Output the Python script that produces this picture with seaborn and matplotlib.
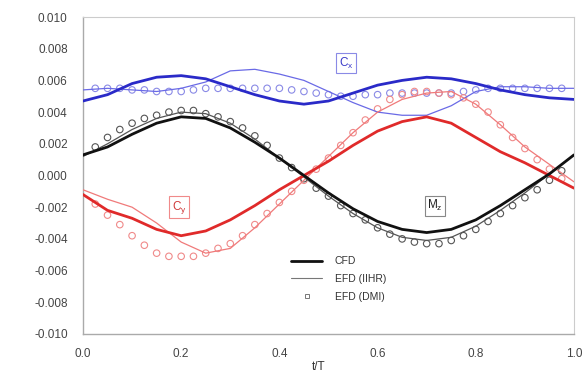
import numpy as np
import pandas as pd
import matplotlib
matplotlib.use("Agg")
import matplotlib.pyplot as plt
import seaborn as sns
from matplotlib.lines import Line2D

# ---- time base (t/T) ----
t_cfd = [0.00, 0.05, 0.10, 0.15, 0.20, 0.25, 0.30, 0.35, 0.40, 0.45, 0.50,
         0.55, 0.60, 0.65, 0.70, 0.75, 0.80, 0.85, 0.90, 0.95, 1.00]
t_iihr = t_cfd
t_dmi = [0.025, 0.050, 0.075, 0.100, 0.125, 0.150, 0.175, 0.200, 0.225, 0.250,
         0.275, 0.300, 0.325, 0.350, 0.375, 0.400, 0.425, 0.450, 0.475, 0.500,
         0.525, 0.550, 0.575, 0.600, 0.625, 0.650, 0.675, 0.700, 0.725, 0.750,
         0.775, 0.800, 0.825, 0.850, 0.875, 0.900, 0.925, 0.950, 0.975]

# ---- Cx ----
cx_cfd = [0.0047, 0.0051, 0.0058, 0.0062, 0.0063, 0.0061, 0.0056, 0.0051, 0.0047, 0.0045, 0.0047,
          0.0052, 0.0057, 0.0060, 0.0062, 0.0061, 0.0058, 0.0054, 0.0051, 0.0049, 0.0048]
cx_iihr = [0.0054, 0.0055, 0.0054, 0.0053, 0.0055, 0.0059, 0.0066, 0.0067, 0.0064, 0.0060, 0.0053,
           0.0046, 0.0040, 0.0038, 0.0038, 0.0044, 0.0053, 0.0056, 0.0056, 0.0055, 0.0055]
cx_dmi = [0.0055, 0.0055, 0.0055, 0.0054, 0.0054, 0.0053, 0.0053, 0.0053, 0.0054, 0.0055,
          0.0055, 0.0055, 0.0055, 0.0055, 0.0055, 0.0055, 0.0054, 0.0053, 0.0052, 0.0051,
          0.0050, 0.0050, 0.0051, 0.0051, 0.0052, 0.0052, 0.0052, 0.0052, 0.0052, 0.0052,
          0.0053, 0.0054, 0.0055, 0.0055, 0.0055, 0.0055, 0.0055, 0.0055, 0.0055]

# ---- Cy ----
cy_cfd = [-0.0012, -0.0022, -0.0027, -0.0034, -0.0038, -0.0035, -0.0028, -0.0019, -0.0009, 0.0000, 0.0009,
          0.0019, 0.0028, 0.0034, 0.0037, 0.0033, 0.0024, 0.0015, 0.0008, 0.0000, -0.0008]
cy_iihr = [-0.0009, -0.0015, -0.0020, -0.0030, -0.0042, -0.0049, -0.0046, -0.0033, -0.0018, -0.0003, 0.0012,
           0.0027, 0.0040, 0.0048, 0.0052, 0.0053, 0.0045, 0.0032, 0.0018, 0.0007, -0.0004]
cy_dmi = [-0.0018, -0.0025, -0.0031, -0.0038, -0.0044, -0.0049, -0.0051, -0.0051, -0.0051, -0.0049,
          -0.0046, -0.0043, -0.0038, -0.0031, -0.0024, -0.0017, -0.0010, -0.0003, 0.0004, 0.0011,
          0.0019, 0.0027, 0.0035, 0.0042, 0.0048, 0.0051, 0.0053, 0.0053, 0.0052, 0.0051,
          0.0049, 0.0045, 0.0040, 0.0032, 0.0024, 0.0017, 0.0010, 0.0004, -0.0002]

# ---- Mz ----
mz_cfd = [0.0013, 0.0018, 0.0026, 0.0033, 0.0037, 0.0036, 0.0030, 0.0021, 0.0011, 0.0000, -0.0011,
          -0.0021, -0.0029, -0.0034, -0.0036, -0.0034, -0.0028, -0.0019, -0.0009, 0.0001, 0.0013]
mz_iihr = [0.0012, 0.0020, 0.0029, 0.0036, 0.0040, 0.0039, 0.0033, 0.0023, 0.0011, -0.0001, -0.0013,
           -0.0024, -0.0033, -0.0039, -0.0041, -0.0039, -0.0032, -0.0022, -0.0011, 0.0001, 0.0013]
mz_dmi = [0.0018, 0.0024, 0.0029, 0.0033, 0.0036, 0.0038, 0.0040, 0.0041, 0.0041, 0.0039,
          0.0037, 0.0034, 0.0030, 0.0025, 0.0019, 0.0011, 0.0005, -0.0002, -0.0008, -0.0013,
          -0.0019, -0.0024, -0.0028, -0.0033, -0.0037, -0.0040, -0.0042, -0.0043, -0.0043, -0.0041,
          -0.0038, -0.0034, -0.0029, -0.0024, -0.0019, -0.0014, -0.0009, -0.0003, 0.0003]

# ---- axis ticks ----
x_ticks = [0.0, 0.2, 0.4, 0.6, 0.8, 1.0]
y_ticks = [-0.010, -0.008, -0.006, -0.004, -0.002, 0.000, 0.002, 0.004, 0.006, 0.008, 0.010]

sns.set_style("white")
plt.rcParams["font.family"] = ["Liberation Sans", "DejaVu Sans"]
plt.rcParams["mathtext.fontset"] = "custom"
plt.rcParams["mathtext.rm"] = "Liberation Sans"
plt.rcParams["mathtext.it"] = "Liberation Sans"

fig = plt.figure(figsize=(5.86, 3.72), dpi=100)
ax = fig.add_axes([0.1416, 0.1022, 0.8379, 0.8521])

styles = {
    "Cx": dict(cfd="#2a2ac8", thin="#6a6ae6", dot="#8a8ae6"),
    "Cy": dict(cfd="#e02a2a", thin="#f07a7a", dot="#f08a8a"),
    "Mz": dict(cfd="#111111", thin="#555555", dot="#555555"),
}
series = {
    "Cx": (cx_cfd, cx_iihr, cx_dmi),
    "Cy": (cy_cfd, cy_iihr, cy_dmi),
    "Mz": (mz_cfd, mz_iihr, mz_dmi),
}

for name, (cfd, iihr, dmi) in series.items():
    st = styles[name]
    sns.scatterplot(x=t_dmi, y=dmi, ax=ax, marker="o", s=22, facecolor="none",
                    edgecolor=st["dot"], linewidth=0.8, zorder=2)
    sns.lineplot(x=t_iihr, y=iihr, ax=ax, color=st["thin"], linewidth=0.9, zorder=3)
    sns.lineplot(x=t_cfd, y=cfd, ax=ax, color=st["cfd"], linewidth=2.0, zorder=4)

# boxed curve labels
def box(c):
    return dict(boxstyle="square,pad=0.2", facecolor="white", edgecolor=c, linewidth=0.8)

ax.text(0.536, 0.0071, r"C$_\mathregular{x}$", color="#3a3ac8", fontsize=8.5,
        ha="center", va="center", bbox=box("#8a8ae6"), zorder=6)
ax.text(0.196, -0.0020, r"C$_\mathregular{y}$", color="#d03a3a", fontsize=8.5,
        ha="center", va="center", bbox=box("#f08a8a"), zorder=6)
ax.text(0.717, -0.0019, r"M$_\mathregular{z}$", color="#222222", fontsize=8.5,
        ha="center", va="center", bbox=box("#888888"), zorder=6)

# legend
handles = [
    Line2D([], [], color="#111111", linewidth=2.0),
    Line2D([], [], color="#777777", linewidth=0.8),
    Line2D([], [], color="#777777", linestyle="none", marker="s",
           markersize=3, markerfacecolor="none", markeredgewidth=0.7),
]
ax.legend(handles, ["CFD", "EFD (IIHR)", "EFD (DMI)"], loc="upper left",
          bbox_to_anchor=(0.405, 0.275), frameon=False, fontsize=7.5,
          handlelength=3.0, handletextpad=1.2, labelspacing=0.75, labelcolor="#333333")

ax.set_xlim(0, 1)
ax.set_ylim(-0.010, 0.010)
ax.set_xticks(x_ticks)
ax.set_yticks(y_ticks)
ax.set_xticklabels([f"{v:.1f}" for v in x_ticks])
ax.set_yticklabels([f"{v:.3f}" for v in y_ticks])
ax.tick_params(axis="both", labelsize=8.5, colors="#444444")
ax.tick_params(axis="x", length=4, width=0.8, color="#bbbbbb", pad=6, direction="out")
ax.tick_params(axis="y", length=0, pad=11)
ax.set_xlabel("t/T", fontsize=8.5, color="#333333")
ax.xaxis.set_label_coords(0.48, -0.085)

for s in ["left", "bottom"]:
    ax.spines[s].set_color("#aaaaaa")
    ax.spines[s].set_linewidth(1.0)
for s in ["top", "right"]:
    ax.spines[s].set_color("#cccccc")
    ax.spines[s].set_linewidth(0.8)

fig.savefig("out.png", dpi=100)
